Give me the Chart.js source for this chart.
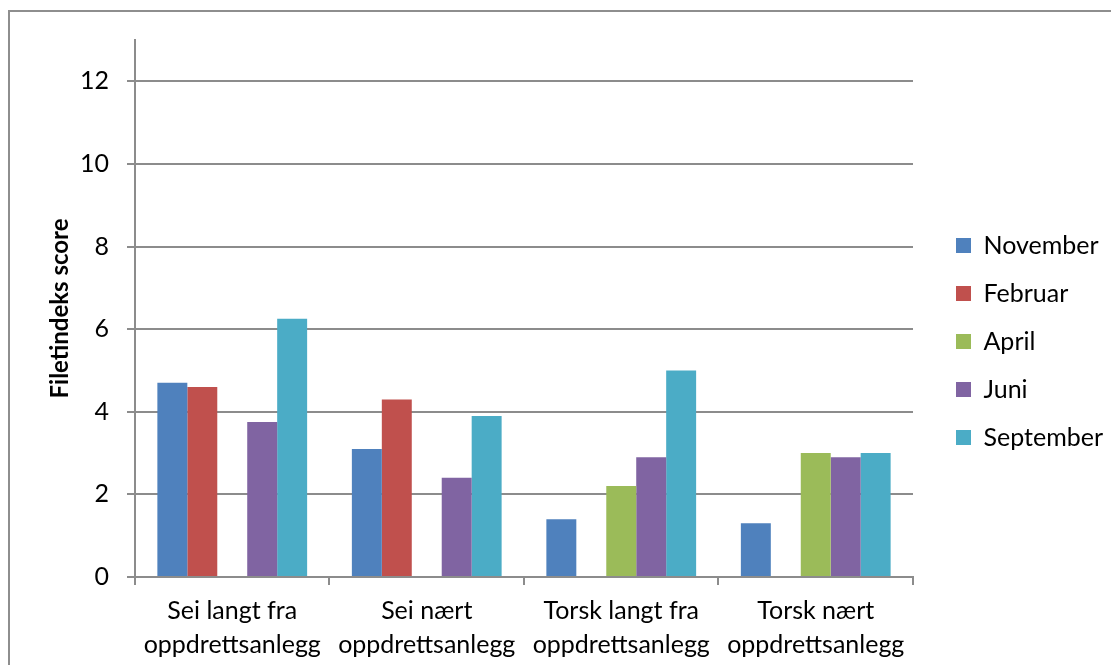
<!DOCTYPE html>
<html>
<head>
<meta charset="utf-8">
<script src="https://cdn.jsdelivr.net/npm/chart.js@4"></script>
<style>
  html, body { margin: 0; padding: 0; background: #fff; }
  #frame {
    position: absolute; left: 8px; top: 10px; width: 1200px; height: 700px;
    border-left: 2px solid #8e8e8e; border-top: 2px solid #8e8e8e;
  }
  #chart { position: absolute; left: 0; top: 0; }
</style>
</head>
<body>
<div id="frame"></div>
<canvas id="chart" width="1111" height="665"></canvas>
<script>
// categories and series
const categories = [
  ['Sei langt fra', 'oppdrettsanlegg'],
  ['Sei nært', 'oppdrettsanlegg'],
  ['Torsk langt fra', 'oppdrettsanlegg'],
  ['Torsk nært', 'oppdrettsanlegg']
];
const seriesNames = ['November', 'Februar', 'April', 'Juni', 'September'];
const november = [4.7, 3.1, 1.4, 1.3];
const februar = [4.6, 4.3, null, null];
const april = [null, null, 2.2, 3.0];
const juni = [3.75, 2.4, 2.9, 2.9];
const september = [6.25, 3.9, 5.0, 3.0];
const seriesColors = ['#4F81BD', '#C0504D', '#9BBB59', '#8064A2', '#4BACC6'];
const yTicks = [0, 2, 4, 6, 8, 10, 12];

const axisGray = '#8c8c8c';
const font = "Lato, 'Open Sans', sans-serif";
Chart.defaults.color = '#000';
Chart.defaults.font.family = font;

const seriesValues = [november, februar, april, juni, september];

new Chart(document.getElementById('chart').getContext('2d'), {
  type: 'bar',
  data: {
    labels: categories,
    datasets: seriesNames.map((name, i) => ({
      label: name,
      data: seriesValues[i],
      backgroundColor: seriesColors[i],
      borderWidth: 0,
      categoryPercentage: 0.77,
      barPercentage: 1.0
    }))
  },
  options: {
    responsive: false,
    animation: false,
    layout: { padding: { top: 40, right: -2, bottom: 0, left: 0 } },
    plugins: {
      tooltip: { enabled: false },
      legend: {
        position: 'right',
        align: 'start',
        // empty title only pushes the items down to where the reference has them
        title: { display: true, text: ' ', font: { size: 10 }, padding: { top: 0, bottom: 158 } },
        labels: {
          boxWidth: 15,
          boxHeight: 15,
          padding: 23,
          font: { size: 25 }
        }
      }
    },
    scales: {
      x: {
        afterFit(scale) { scale.height = 88; },
        grid: {
          offset: true,
          drawOnChartArea: false,
          drawTicks: true,
          tickLength: 8,
          color: axisGray,
          lineWidth: 2
        },
        border: { display: true, color: axisGray, width: 2 },
        ticks: {
          padding: 9,
          maxRotation: 0,
          font: { size: 25, lineHeight: 34 / 25 }
        }
      },
      y: {
        min: 0,
        max: 13,
        afterFit(scale) { scale.width = 135; },
        afterBuildTicks(scale) { scale.ticks = yTicks.map(v => ({ value: v })); },
        grid: {
          color: axisGray,
          lineWidth: 2,
          drawTicks: true,
          tickLength: 8
        },
        border: { display: true, color: axisGray, width: 2 },
        ticks: {
          padding: 18,
          font: { size: 25 }
        },
        title: {
          display: true,
          text: 'Filetindeks score',
          font: { size: 24, weight: 'bold' },
          padding: { top: 46, bottom: 46 }
        }
      },
      gap: {
        position: 'right',
        display: true,
        afterFit(scale) { scale.width = 20; },
        grid: { display: false, drawTicks: false },
        border: { display: false },
        ticks: { display: false }
      }
    }
  }
});
</script>
</body>
</html>
